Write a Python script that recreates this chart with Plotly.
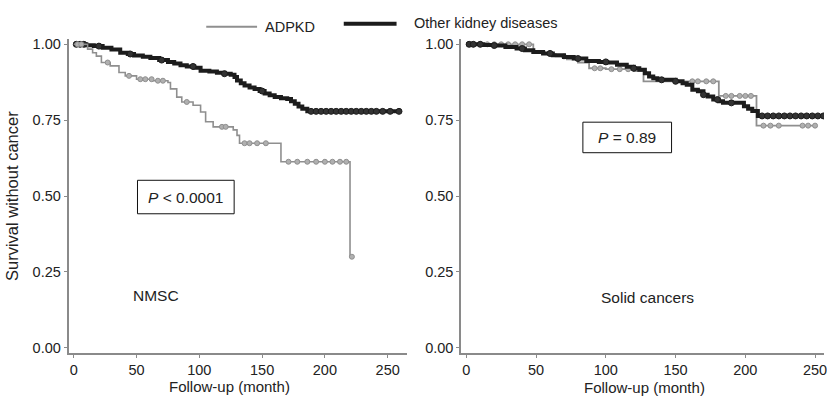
import numpy as np
import plotly.graph_objects as go

# ---------------- data ----------------
x_ticks = [0, 50, 100, 150, 200, 250]
y_ticks = [0.0, 0.25, 0.5, 0.75, 1.0]
y_tick_labels = ["0.00", "0.25", "0.50", "0.75", "1.00"]

# Left panel: NMSC
nmsc_adpkd_t = [11, 15, 18, 22, 29, 36, 41, 50, 63, 75, 77, 82, 86, 95, 101, 105, 111, 127, 130, 132, 165, 220]
nmsc_adpkd_s = [0.984, 0.972, 0.961, 0.940, 0.929, 0.907, 0.896, 0.885, 0.880, 0.874, 0.853, 0.826, 0.810,
                0.799, 0.777, 0.745, 0.728, 0.718, 0.700, 0.674, 0.613, 0.300]
nmsc_adpkd_end = 221.5
nmsc_adpkd_cens = [3, 6, 27, 44, 53, 57, 62, 67, 71, 90, 118, 121, 136, 140, 146, 153, 171, 178, 186,
                   193, 200, 206, 212, 217, 221.5]

nmsc_other_t = [10, 16, 23, 30, 37, 43, 48, 55, 61, 68, 75, 80, 85, 90, 96, 101, 108, 114, 120, 125, 128,
                130, 133, 136, 140, 144, 148, 152, 156, 160, 165, 170, 173, 176, 179, 182, 186]
nmsc_other_s = [0.997, 0.994, 0.989, 0.983, 0.972, 0.968, 0.963, 0.959, 0.955, 0.948, 0.942, 0.937, 0.931,
                0.927, 0.923, 0.913, 0.910, 0.906, 0.903, 0.900, 0.892, 0.881, 0.872, 0.864, 0.858, 0.853,
                0.846, 0.838, 0.832, 0.826, 0.822, 0.820, 0.812, 0.804, 0.795, 0.788, 0.779]
nmsc_other_end = 260
nmsc_other_cens = [2, 5, 8, 20, 45, 70, 95, 120, 150, 189, 193, 197, 201, 205, 209, 213, 217, 221, 225,
                   229, 233, 237, 241, 246, 252, 259]

# Right panel: Solid cancers
solid_adpkd_t = [48, 56, 64, 72, 80, 88, 100, 112, 120, 127, 181, 208]
solid_adpkd_s = [0.977, 0.968, 0.960, 0.950, 0.940, 0.921, 0.918, 0.918, 0.912, 0.878, 0.830, 0.732]
solid_adpkd_end = 250
solid_adpkd_cens = [5, 10, 15, 20, 25, 30, 35, 40, 45, 60, 70, 92, 96, 104, 110, 116, 162, 166, 172, 177,
                    186, 190, 196, 200, 204, 213, 218, 224, 241, 245, 250]

solid_other_t = [12, 20, 28, 36, 42, 48, 55, 62, 70, 77, 86, 95, 101, 108, 115, 120, 124, 128, 131, 134,
                 137, 150, 155, 158, 162, 166, 170, 173, 177, 181, 184, 199, 202, 205, 209]
solid_other_s = [0.998, 0.996, 0.991, 0.986, 0.980, 0.975, 0.970, 0.964, 0.958, 0.953, 0.945, 0.942,
                 0.940, 0.933, 0.926, 0.921, 0.916, 0.905, 0.894, 0.888, 0.883, 0.878, 0.872, 0.867,
                 0.850, 0.845, 0.834, 0.828, 0.818, 0.812, 0.807, 0.796, 0.788, 0.780, 0.764]
solid_other_end = 258
solid_other_cens = [2, 5, 10, 20, 40, 60, 80, 100, 120, 140, 150, 170, 180, 190, 212, 216, 220, 224, 228,
                    232, 236, 240, 244, 248, 252, 256]

legend_names = ["ADPKD", "Other kidney diseases"]
panel_labels = ["NMSC", "Solid cancers"]
p_values = ["<i>P</i> &lt; 0.0001", "<i>P</i> = 0.89"]

# ---------------- styles ----------------
W, H = 827, 398
GRAY = "#8f8f8f"
BLACK = "#1c1c1c"
AXIS = "#8a8a8a"
TXT = "#222222"
FONT = "Liberation Sans, Arial, sans-serif"


def px(x):
    return x / W


def py(y):
    return 1 - y / H


def km_xy(t, s, end):
    xs = [0] + list(t) + [end]
    ys = [1.0] + list(s) + [s[-1]]
    return xs, ys


def surv_at(t, s, tc):
    t = np.asarray(t, float)
    s = np.asarray([1.0] + list(s))
    idx = np.searchsorted(t, np.asarray(tc, float), side="right")
    return s[idx]


fig = go.Figure()

curves = [
    ("x", "y", nmsc_other_t, nmsc_other_s, nmsc_other_end, nmsc_other_cens, BLACK, 4.0, 1),
    ("x", "y", nmsc_adpkd_t, nmsc_adpkd_s, nmsc_adpkd_end, nmsc_adpkd_cens, GRAY, 1.6, 0),
    ("x2", "y2", solid_adpkd_t, solid_adpkd_s, solid_adpkd_end, solid_adpkd_cens, GRAY, 1.8, 0),
    ("x2", "y2", solid_other_t, solid_other_s, solid_other_end, solid_other_cens, BLACK, 4.0, 1),
]

for xa, ya, t, s, end, cens, col, lw, k in curves:
    xs, ys = km_xy(t, s, end)
    fig.add_trace(go.Scatter(x=xs, y=ys, mode="lines", line=dict(color=col, width=lw, shape="hv"),
                             xaxis=xa, yaxis=ya, showlegend=False, name=legend_names[k],
                             hoverinfo="skip"))
    cy = surv_at(t, s, cens)
    fig.add_trace(go.Scatter(x=cens, y=cy, mode="markers",
                             marker=dict(symbol="circle", size=5 if k == 0 else 6,
                                         color="#b0b0b0" if k == 0 else "#333333",
                                         line=dict(color=col, width=1)),
                             xaxis=xa, yaxis=ya, showlegend=False, hoverinfo="skip"))

ydom = [py(355), py(37)]
axis_common = dict(showgrid=False, zeroline=False, showline=True, linecolor=AXIS, linewidth=2,
                   ticks="outside", ticklen=3, tickwidth=1, tickcolor=AXIS,
                   ticklabeloverflow="allow",
                   tickfont=dict(family=FONT, size=14.5, color=TXT))

fig.update_layout(
    width=W, height=H,
    margin=dict(l=0, r=0, t=0, b=0),
    paper_bgcolor="white", plot_bgcolor="white",
    showlegend=False,
    xaxis=dict(domain=[px(69), px(408)], range=[-4, 265], tickvals=x_ticks, anchor="y", **axis_common),
    yaxis=dict(domain=ydom, range=[-0.016, 1.016], tickvals=y_ticks, ticktext=y_tick_labels,
               anchor="x", **axis_common),
    xaxis2=dict(domain=[px(463), 1.0], range=[-3.6, 256.4], tickvals=x_ticks, anchor="y2", **axis_common),
    yaxis2=dict(domain=ydom, range=[-0.016, 1.016], tickvals=y_ticks, ticktext=y_tick_labels,
                anchor="x2", **axis_common),
)

shapes = [
    # legend lines
    dict(type="line", xref="paper", yref="paper", x0=px(207), x1=px(258), y0=py(24), y1=py(24),
         line=dict(color=GRAY, width=2)),
    dict(type="line", xref="paper", yref="paper", x0=px(345), x1=px(398), y0=py(21), y1=py(21),
         line=dict(color=BLACK, width=4)),
    # p-value boxes
    dict(type="rect", xref="paper", yref="paper", x0=px(138), x1=px(235), y0=py(214), y1=py(180),
         line=dict(color="#111111", width=1)),
    dict(type="rect", xref="paper", yref="paper", x0=px(585), x1=px(674), y0=py(152), y1=py(121),
         line=dict(color="#111111", width=1)),
]
fig.update_layout(shapes=shapes)


def ann(text, x, y, size, xanchor="center", angle=0):
    return dict(text=text, xref="paper", yref="paper", x=px(x), y=py(y), xanchor=xanchor,
                yanchor="middle", showarrow=False, textangle=angle,
                font=dict(family=FONT, size=size, color=TXT))


annotations = [
    ann(legend_names[0], 264, 24, 14.5, "left"),
    ann(legend_names[1], 414, 20, 14.5, "left"),
    ann(p_values[0], 186.5, 197, 15.5),
    ann(p_values[1], 629.5, 136.5, 15.5),
    ann(panel_labels[0], 131, 297, 15.5, "left"),
    ann(panel_labels[1], 650, 299, 15.5),
    ann("Follow-up (month)", 230, 389.5, 15),
    ann("Follow-up (month)", 647, 390, 15),
    ann("Survival without cancer", 12, 196, 16.5, angle=-90),
]
fig.update_layout(annotations=annotations)

fig.write_html("out.html", config={"displayModeBar": False},
               post_script="document.body.style.margin='0';document.body.style.overflow='hidden';")
